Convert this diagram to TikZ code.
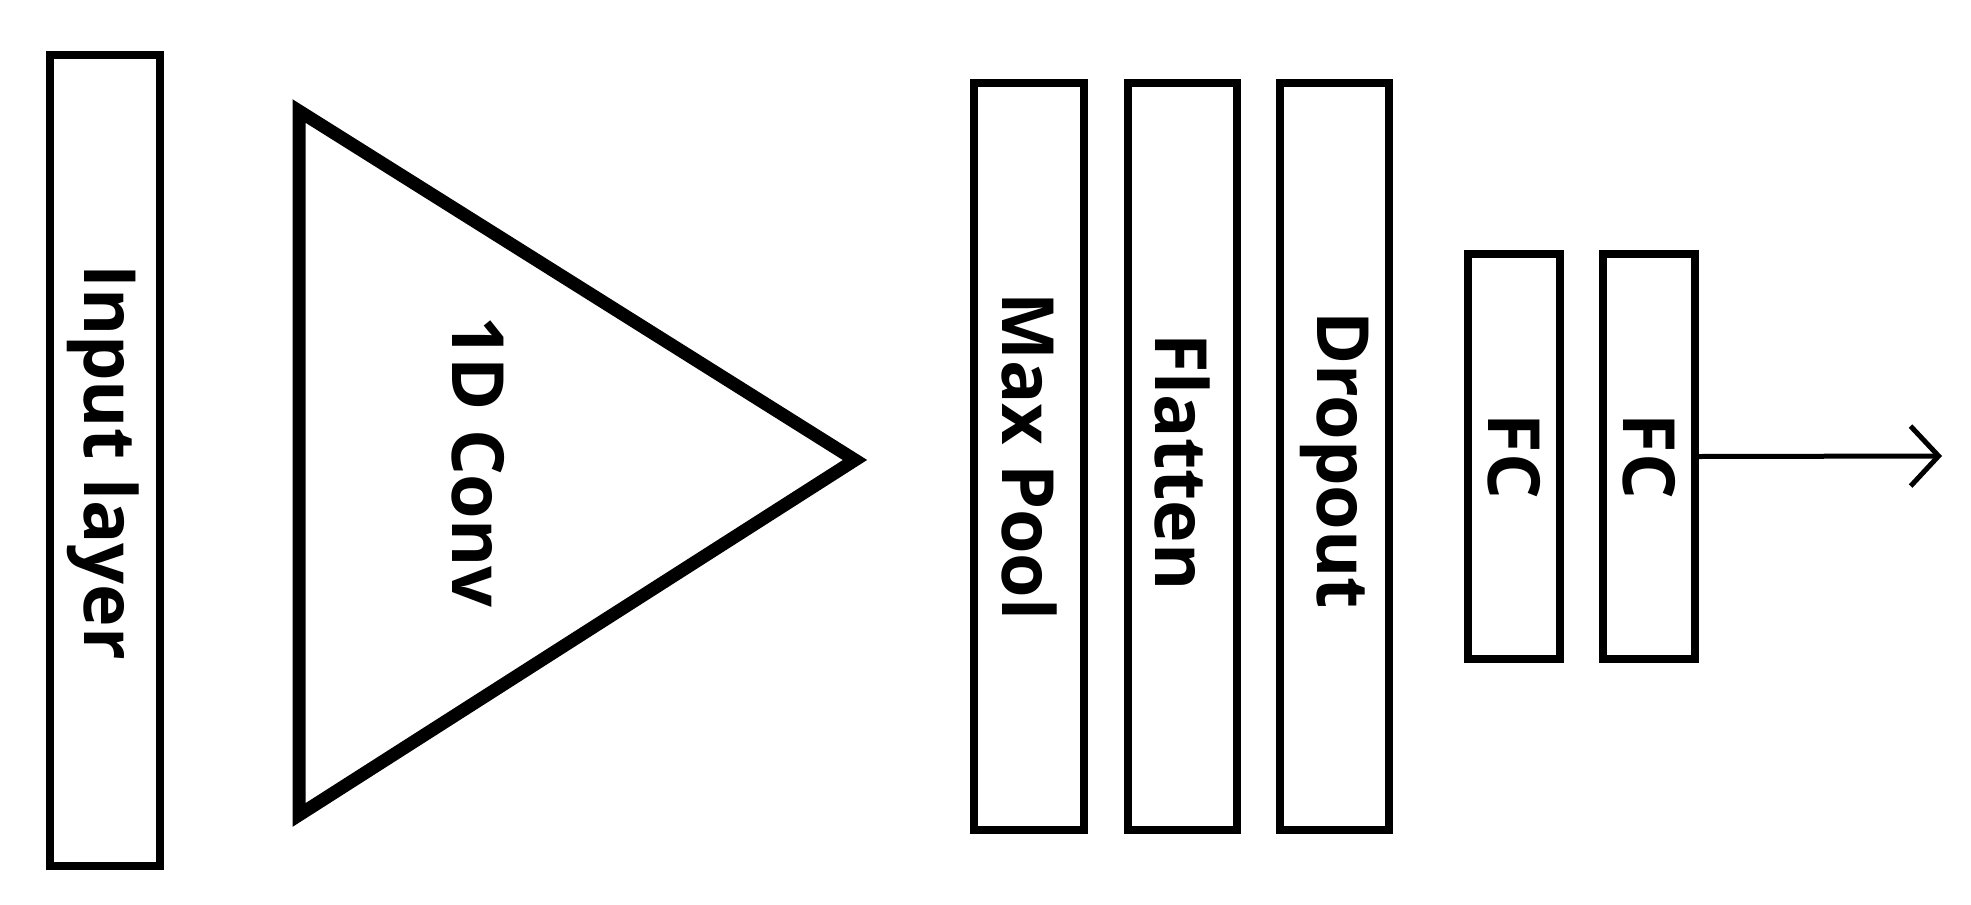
\documentclass[tikz,border=0pt]{standalone}
\usepackage{fontspec}
\setmainfont{Open Sans}
\usetikzlibrary{arrows.meta}
\begin{document}
\begin{tikzpicture}[x=0.5pt,y=-0.5pt,
  layer/.style={draw,line width=4pt,inner sep=0pt},
  lbl/.style={rotate=-90,font=\fontsize{36}{40}\selectfont\bfseries}]
\useasboundingbox (0,0) rectangle (1971,905);
\node[layer,minimum width=55pt,minimum height=405.5pt] (inp) at (105,460.5) {};
\node[lbl] (inpt) at (103,462) {Input layer};
\draw[line width=6.5pt,miter limit=10] (299,111) -- (855,460) -- (299,815) -- cycle;
\coordinate (apex) at (855,460);
\node[lbl] (conv) at (478,462) {1D Conv};
\node[layer,minimum width=55pt,minimum height=373.5pt] (mp) at (1029,456.5) {};
\node[lbl] at (mp) {Max Pool};
\node[layer,minimum width=54.5pt,minimum height=373.5pt] (fl) at (1182.5,456.5) {};
\node[lbl] at (1182.5,462) {Flatten};
\node[layer,minimum width=54.5pt,minimum height=373.5pt] (dr) at (1334.5,456.5) {};
\node[lbl] at (1334.5,460) {Dropout};
\node[layer,minimum width=46pt,minimum height=202.5pt] (fc1) at (1514,456.5) {};
\node[lbl] at (fc1) {FC};
\node[layer,minimum width=46pt,minimum height=202.5pt] (fc2) at (1649,456.5) {};
\node[lbl] at (fc2) {FC};
\coordinate (out) at (1942,456);
\draw[line width=2.5pt,-{Straight Barb[length=14pt,width=30pt,line width=2.5pt]}] (fc2.east) -- (out);
\end{tikzpicture}
\end{document}
